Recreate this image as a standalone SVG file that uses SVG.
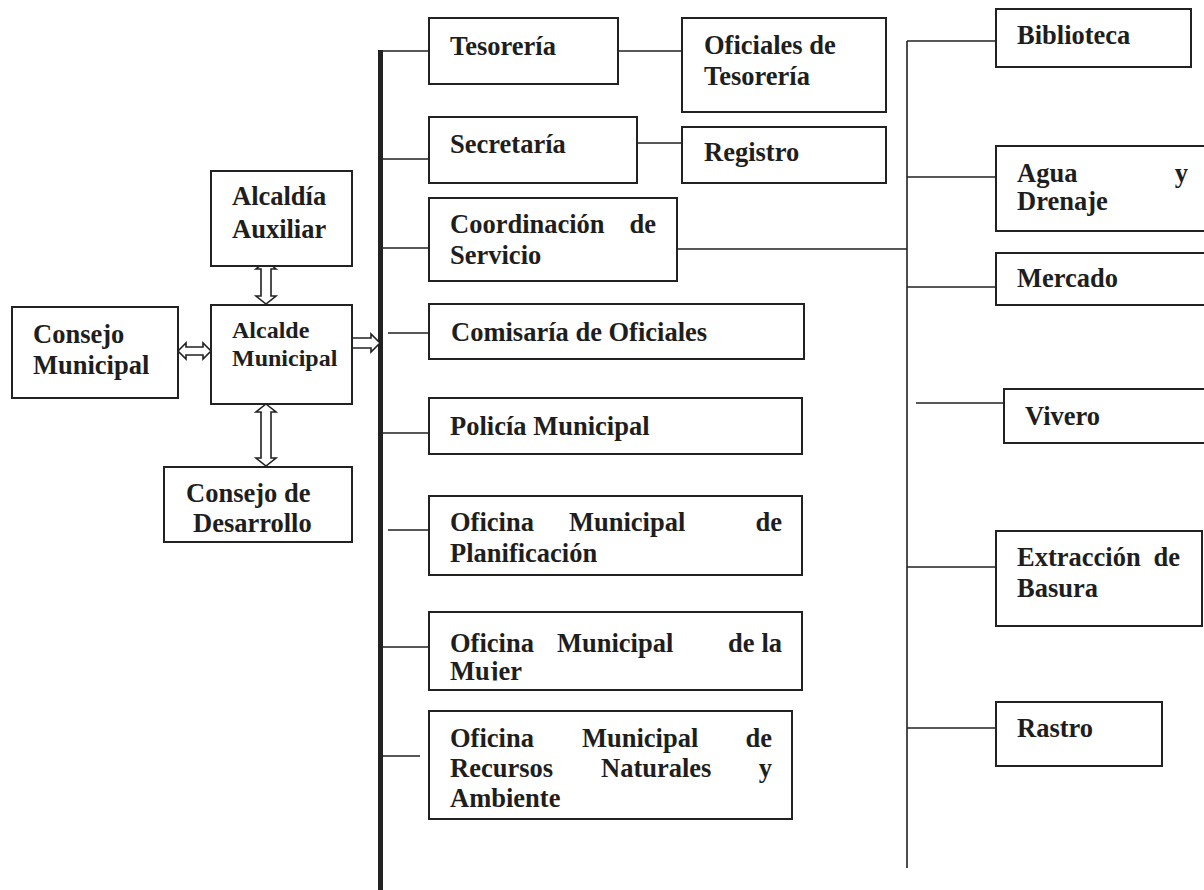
<svg xmlns="http://www.w3.org/2000/svg" width="1204" height="890" viewBox="0 0 1204 890">
<style>
.box{fill:#fff;stroke:#222;stroke-width:2}
.ln{stroke:#222;stroke-width:1.6;fill:none}
.arr{fill:#fff;stroke:#222;stroke-width:1.6;stroke-linejoin:miter}
.t{font-family:"Liberation Serif","Times New Roman",serif;font-weight:bold;font-size:26.5px;fill:#1e1e1e}
.s{font-size:24px}
.e{text-anchor:end}
</style>
<defs>
<clipPath id="clipMujer"><rect x="429" y="600" width="380" height="80.5"/></clipPath>
</defs>
<rect width="1204" height="890" fill="#fff"/>

<g id="connectors">
<rect x="378" y="50" width="5" height="840" fill="#222"/>
<path class="ln" d="M380 51H429M618 51H682M383 159H429M637 143H682M383 248H429M388 333H429M383 433H429M388 530H429M383 647H429M383 756H420"/>
<path class="ln" d="M907 41V868M907 41H996M907 177H996M677 249H907M907 287H996M916 403H1004M907 567H996M907 728H996"/>
<polygon class="arr" points="266,261 276,269 271,269 271,296 276,296 266,304 256,296 261,296 261,269 256,269"/>
<polygon class="arr" points="266,404 276,412 271,412 271,458 276,458 266,466 256,458 261,458 261,412 256,412"/>
<polygon class="arr" points="178,351 186,343 186,347 203,347 203,343 211,351 203,359 203,355 186,355 186,359"/>
<polygon class="arr" points="352,338 371,338 371,334 380,343 371,352 371,348 352,348"/>
</g>

<g id="consejo-municipal">
<rect class="box" x="12" y="307" width="166" height="91"/>
<text class="t" x="33" y="343">Consejo</text>
<text class="t" x="33" y="374">Municipal</text>
</g>
<g id="alcaldia-auxiliar">
<rect class="box" x="211" y="171" width="141" height="95"/>
<text class="t" x="232" y="205">Alcaldía</text>
<text class="t" x="232" y="238">Auxiliar</text>
</g>
<g id="alcalde-municipal">
<rect class="box" x="211" y="305" width="141" height="99"/>
<text class="t s" x="232" y="338">Alcalde</text>
<text class="t s" x="232" y="366">Municipal</text>
</g>
<g id="consejo-desarrollo">
<rect class="box" x="164" y="467" width="188" height="75"/>
<text class="t" x="186" y="502">Consejo de</text>
<text class="t" x="193" y="532">Desarrollo</text>
</g>

<g id="tesoreria">
<rect class="box" x="429" y="18" width="189" height="66"/>
<text class="t" x="450" y="55">Tesorería</text>
</g>
<g id="oficiales-tesoreria">
<rect class="box" x="682" y="18" width="204" height="94"/>
<text class="t" x="704" y="54">Oficiales de</text>
<text class="t" x="704" y="85">Tesorería</text>
</g>
<g id="secretaria">
<rect class="box" x="429" y="117" width="208" height="66"/>
<text class="t" x="450" y="153">Secretaría</text>
</g>
<g id="registro">
<rect class="box" x="682" y="127" width="204" height="56"/>
<text class="t" x="704" y="161">Registro</text>
</g>
<g id="coordinacion">
<rect class="box" x="429" y="198" width="248" height="83"/>
<text class="t" x="450" y="233">Coordinación</text>
<text class="t e" x="656" y="233">de</text>
<text class="t" x="450" y="264">Servicio</text>
</g>
<g id="comisaria">
<rect class="box" x="429" y="304" width="375" height="55"/>
<text class="t" x="451" y="341">Comisaría de Oficiales</text>
</g>
<g id="policia">
<rect class="box" x="429" y="398" width="373" height="56"/>
<text class="t" x="450" y="435">Policía Municipal</text>
</g>
<g id="planificacion">
<rect class="box" x="429" y="496" width="373" height="79"/>
<text class="t" x="450" y="531">Oficina</text>
<text class="t" x="569" y="531">Municipal</text>
<text class="t e" x="782" y="531">de</text>
<text class="t" x="450" y="562">Planificación</text>
</g>
<g id="mujer">
<rect class="box" x="429" y="612" width="373" height="78"/>
<text class="t" x="450" y="652">Oficina</text>
<text class="t" x="557" y="652">Municipal</text>
<text class="t" x="728" y="652">de</text>
<text class="t e" x="782" y="652">la</text>
<text class="t" x="450" y="680" clip-path="url(#clipMujer)">Mujer</text>
</g>
<g id="recursos">
<rect class="box" x="429" y="711" width="363" height="108"/>
<text class="t" x="450" y="747">Oficina</text>
<text class="t" x="582" y="747">Municipal</text>
<text class="t e" x="772" y="747">de</text>
<text class="t" x="450" y="777">Recursos</text>
<text class="t" x="601" y="777">Naturales</text>
<text class="t e" x="772" y="777">y</text>
<text class="t" x="450" y="807">Ambiente</text>
</g>

<g id="biblioteca">
<rect class="box" x="996" y="9" width="195" height="58"/>
<text class="t" x="1017" y="44">Biblioteca</text>
</g>
<g id="agua-drenaje">
<rect class="box" x="996" y="146" width="230" height="85"/>
<text class="t" x="1017" y="182">Agua</text>
<text class="t e" x="1188" y="182">y</text>
<text class="t" x="1017" y="210">Drenaje</text>
</g>
<g id="mercado">
<rect class="box" x="996" y="253" width="230" height="52"/>
<text class="t" x="1017" y="287">Mercado</text>
</g>
<g id="vivero">
<rect class="box" x="1004" y="389" width="230" height="54"/>
<text class="t" x="1025" y="425">Vivero</text>
</g>
<g id="extraccion-basura">
<rect class="box" x="996" y="531" width="206" height="95"/>
<text class="t" x="1017" y="566">Extracción</text>
<text class="t e" x="1180" y="566">de</text>
<text class="t" x="1017" y="597">Basura</text>
</g>
<g id="rastro">
<rect class="box" x="996" y="702" width="166" height="64"/>
<text class="t" x="1017" y="737">Rastro</text>
</g>
</svg>
